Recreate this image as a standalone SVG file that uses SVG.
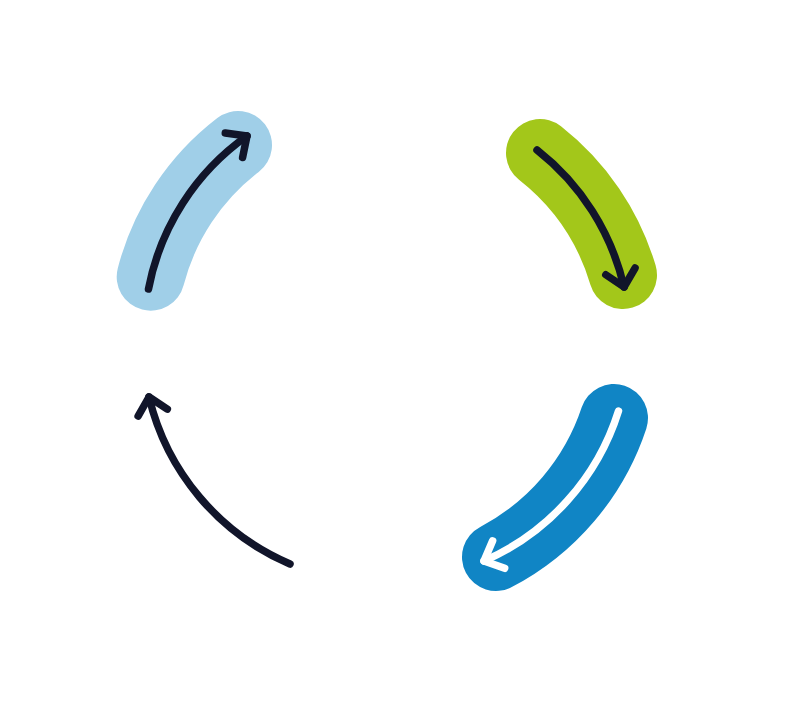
<svg xmlns="http://www.w3.org/2000/svg" width="800" height="705" viewBox="0 0 800 705">
<style>
.band{fill:none;stroke-width:68;stroke-linecap:round}
.arrow{fill:none;stroke-width:7.5;stroke-linecap:round;stroke-linejoin:round}
.dark{stroke:#11152a}
.light{stroke:#ffffff}
</style>
<defs>
<marker id="headDark" markerUnits="userSpaceOnUse" orient="auto" markerWidth="40" markerHeight="40" refX="0" refY="0" viewBox="-20 -20 40 40" overflow="visible">
<path d="M-16,-15 L0,0 L-16,15" fill="none" stroke="#11152a" stroke-width="7.5" stroke-linecap="round" stroke-linejoin="round"/>
</marker>
<marker id="headLight" markerUnits="userSpaceOnUse" orient="auto" markerWidth="40" markerHeight="40" refX="0" refY="0" viewBox="-20 -20 40 40" overflow="visible">
<path d="M-16,-15 L0,0 L-16,15" fill="none" stroke="#ffffff" stroke-width="7.5" stroke-linecap="round" stroke-linejoin="round"/>
</marker>
</defs>
<rect width="800" height="705" fill="#ffffff"/>
<g id="node-top-left">
<path class="band" stroke="#a0cfe8" d="M150.7,276.7 A243,243 0 0,1 238,145"/>
</g>
<g id="node-top-right">
<path class="band" stroke="#a3c71a" d="M540,153 A243,243 0 0,1 623,275"/>
</g>
<g id="node-bottom-right">
<path class="band" stroke="#1085c5" d="M614,418 A243,243 0 0,1 496,557"/>
</g>
<g id="connectors">
<path class="arrow dark" marker-end="url(#headDark)" d="M148.5,289 A243,243 0 0,1 247,136"/>
<path class="arrow dark" marker-end="url(#headDark)" d="M537,150 A243,243 0 0,1 624,287"/>
<path class="arrow light" marker-end="url(#headLight)" d="M618.5,411 A243,243 0 0,1 484,561"/>
<path class="arrow dark" marker-end="url(#headDark)" d="M290,564 A243,243 0 0,1 149,397"/>
</g>
</svg>
